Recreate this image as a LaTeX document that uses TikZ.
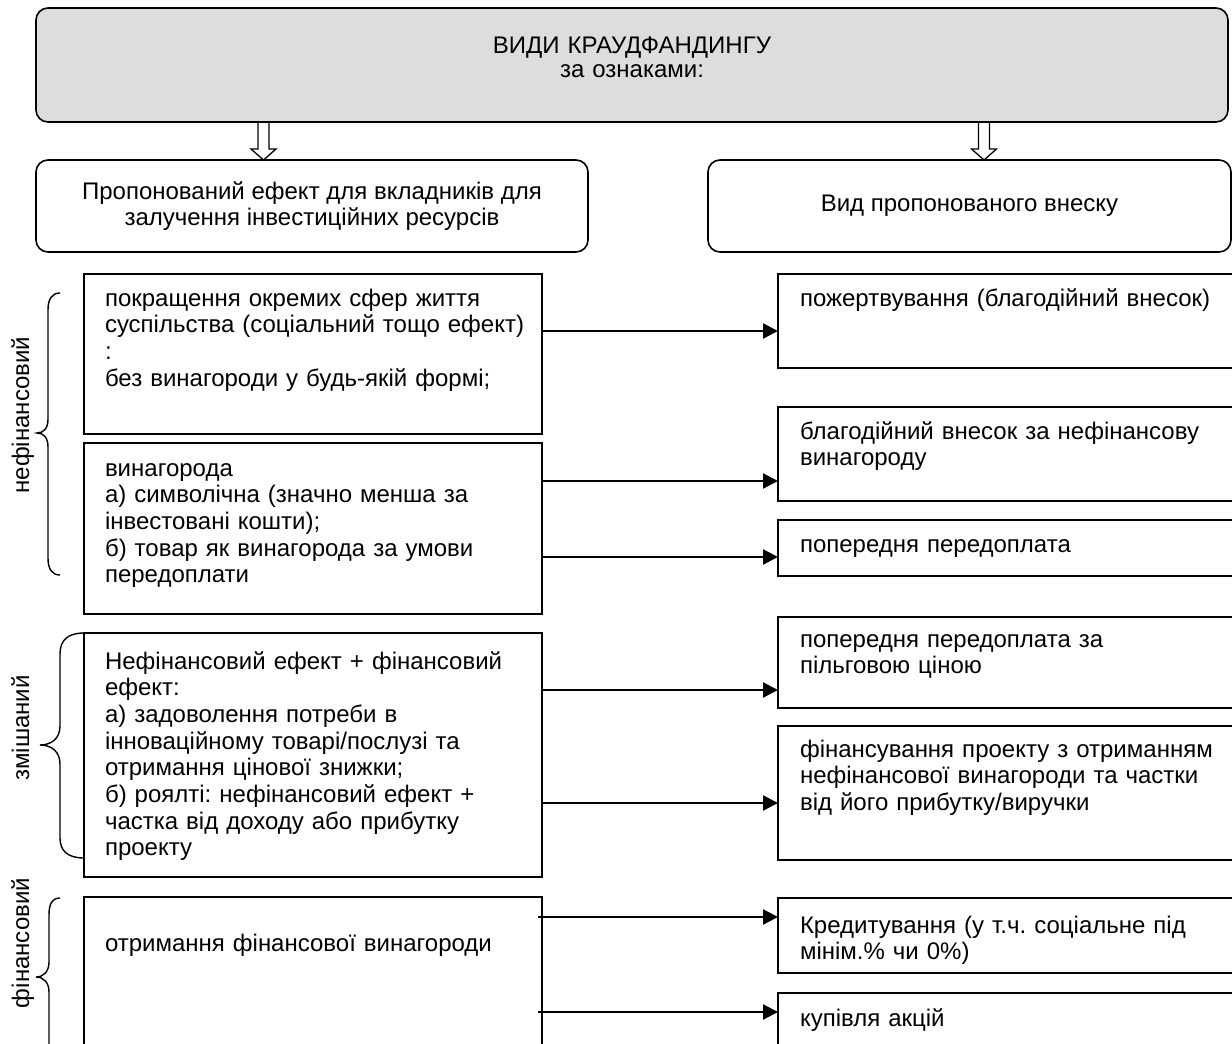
\documentclass[tikz,border=0pt]{standalone}
\usepackage{fontspec}
\setmainfont{Liberation Sans}
\usetikzlibrary{arrows.meta}
\definecolor{topgray}{RGB}{221,221,221}
\newcommand\myfs{\fontsize{24pt}{26.7pt}\selectfont\frenchspacing}
\frenchspacing
\begin{document}
\begin{tikzpicture}[x=1pt,y=-1pt,
  box/.style={draw, line width=1.6pt, inner sep=0pt, outer sep=0pt},
  rbox/.style={box, rounded corners=12pt},
  txt/.style={inner sep=0pt, outer sep=0pt, anchor=base west, align=left, text width=620pt, font=\myfs},
  ctxt/.style={inner sep=0pt, outer sep=0pt, anchor=base, align=center, text width=620pt, font=\myfs},
  conn/.style={line width=2.2pt, -{Triangle[length=15pt,width=15pt]}},
  hollow/.style={line width=1.3pt},
  bracestyle/.style={line width=1.4pt},
  side/.style={rotate=90, anchor=base, inner sep=0pt, font=\myfs},
]
\useasboundingbox (0,0) rectangle (1232,1044);
\clip (0,0) rectangle (1232,1044);

% top
\node[rbox, fill=topgray, minimum width=1192pt, minimum height=114pt] (top) at (632,65) {};
\node[ctxt] (toptext) at (632,53) {ВИДИ КРАУДФАНДИНГУ\\[-2pt]за ознаками:};

\node[rbox, minimum width=552pt, minimum height=92pt, align=center, font=\myfs] (b2l) at (312,206) {Пропонований ефект для вкладників для\\залучення інвестиційних ресурсів};
\node[rbox, minimum width=523pt, minimum height=92pt, font=\myfs] (b2r) at (969.5,206) {Вид пропонованого внеску};

% hollow arrows
\coordinate (h1) at (263.5,0);
\coordinate (h2) at (984,0);
\draw[hollow] (top.south -| h1) ++(-5.5,1) -- ++(0,26) -- ++(-7,0) -- ++(12.5,11) -- ++(12.5,-11) -- ++(-7,0) -- ++(0,-26);
\draw[hollow] (top.south -| h2) ++(-5.5,1) -- ++(0,26) -- ++(-7,0) -- ++(12.5,11) -- ++(12.5,-11) -- ++(-7,0) -- ++(0,-26);

% left boxes
\node[box, minimum width=458pt, minimum height=160pt] (l1) at (313,354) {};
\node[box, minimum width=458pt, minimum height=171pt] (l2) at (313,528.5) {};
\node[box, minimum width=458pt, minimum height=244pt] (l3) at (313,755) {};
\node[box, minimum width=458pt, minimum height=170pt] (l4) at (313,982) {};

\node[txt] (t1) at (105,306) {покращення окремих сфер життя\\суспільства (соціальний тощо ефект)\\:\\без винагороди у будь-якій формі;};
\node[txt] (t2) at (105,476) {винагорода\\а) символічна (значно менша за\\інвестовані кошти);\\б) товар як винагорода за умови\\передоплати};
\node[txt] (t3) at (105,669) {Нефінансовий ефект + фінансовий\\ефект:\\а) задоволення потреби в\\інноваційному товарі/послузі та\\отримання цінової знижки;\\б) роялті: нефінансовий ефект +\\частка від доходу або прибутку\\проекту};
\node[txt] (t4) at (105,951) {отримання фінансової винагороди};

% right boxes
\node[box, minimum width=472pt, minimum height=94pt] (r1) at (1014,321) {};
\node[box, minimum width=472pt, minimum height=94pt] (r2) at (1014,454) {};
\node[box, minimum width=472pt, minimum height=56pt] (r3) at (1014,548) {};
\node[box, minimum width=472pt, minimum height=91pt] (r4) at (1014,662.5) {};
\node[box, minimum width=472pt, minimum height=134pt] (r5) at (1014,793) {};
\node[box, minimum width=472pt, minimum height=75pt] (r6) at (1014,935.5) {};
\node[box, minimum width=472pt, minimum height=77pt] (r7) at (1014,1031.5) {};

\node[txt] (u1) at (800,306) {пожертвування (благодійний внесок)};
\node[txt] (u2) at (800,439) {благодійний внесок за нефінансову\\винагороду};
\node[txt] (u3) at (800,552) {попередня передоплата};
\node[txt] (u4) at (800,647) {попередня передоплата за\\пільговою ціною};
\node[txt] (u5) at (800,757) {фінансування проекту з отриманням\\нефінансової винагороди та частки\\від його прибутку/виручки};
\node[txt] (u6) at (800,933) {Кредитування (у т.ч. соціальне під\\мінім.\% чи 0\%)};
\node[txt] (u7) at (800,1026) {купівля акцій};

% connectors
\coordinate (y1) at (0,331);
\coordinate (y2) at (0,481);
\coordinate (y3) at (0,557);
\coordinate (y4) at (0,690);
\coordinate (y5) at (0,803);
\coordinate (s6) at (538,917);
\coordinate (s7) at (538,1012);
\draw[conn] (l1.east |- y1) -- (r1.west |- y1);
\draw[conn] (l2.east |- y2) -- (r2.west |- y2);
\draw[conn] (l2.east |- y3) -- (r3.west |- y3);
\draw[conn] (l3.east |- y4) -- (r4.west |- y4);
\draw[conn] (l3.east |- y5) -- (r5.west |- y5);
\draw[conn] (s6) -- (r6.west |- s6);
\draw[conn] (s7) -- (r7.west |- s7);

% braces
\draw[bracestyle] (60,293) .. controls (52,293) and (48,299) .. (48,310) -- (48,419) .. controls (48,428) and (44,433) .. (37,433) .. controls (44,433) and (48,438) .. (48,447) -- (48,558) .. controls (48,569) and (52,575) .. (60,575);
\draw[bracestyle] (84,633) .. controls (68,633) and (60,640) .. (60,654) -- (60,726) .. controls (60,738) and (52,745) .. (40,745) .. controls (52,745) and (60,752) .. (60,764) -- (60,838) .. controls (60,851) and (68,858) .. (84,858);
\draw[bracestyle] (60,898) .. controls (52,898) and (49,904) .. (49,915) -- (49,962) .. controls (49,971) and (44,977) .. (36,977) .. controls (44,977) and (49,983) .. (49,992) -- (49,1060);

\node[side] (s1) at (29,415) {нефінансовий};
\node[side] (s2) at (29,728) {змішаний};
\node[side] (s3) at (29,943) {фінансовий};
\end{tikzpicture}
\end{document}
